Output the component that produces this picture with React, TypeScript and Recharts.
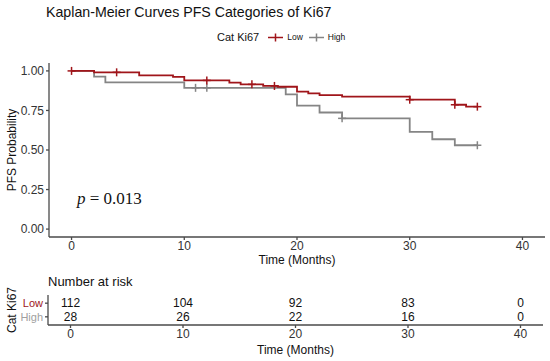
import React from "react";
import {
  ComposedChart,
  ScatterChart,
  Line,
  Scatter,
  XAxis,
  YAxis,
} from "recharts";

// Kaplan-Meier step points (time in months, survival prob, censored flag)
const lowTime = [0, 2, 4, 6, 9, 10, 12, 14, 15, 16, 17, 18, 18.3, 20, 21, 22, 24, 30, 34, 35, 36];
const lowSurv = [1.0, 0.991, 0.991, 0.972, 0.962, 0.94, 0.94, 0.926, 0.915, 0.915, 0.905, 0.905, 0.9, 0.869, 0.858, 0.847, 0.837, 0.818, 0.786, 0.774, 0.774];
const lowCens = [1, 0, 1, 0, 0, 0, 1, 0, 0, 1, 0, 1, 0, 0, 0, 0, 0, 1, 1, 0, 1];

const highTime = [0, 2, 3, 10, 11, 12, 19, 20, 22, 24, 30, 32, 34, 36];
const highSurv = [1.0, 0.964, 0.928, 0.893, 0.893, 0.893, 0.852, 0.78, 0.737, 0.7, 0.615, 0.568, 0.53, 0.53];
const highCens = [0, 0, 0, 0, 1, 1, 0, 0, 0, 1, 0, 0, 0, 1];

// number at risk table
const riskTimes = [0, 10, 20, 30, 40];
const riskLow = [112, 104, 92, 83, 0];
const riskHigh = [28, 26, 22, 16, 0];
const xTicks = [0, 10, 20, 30, 40];
const yTicks = [0, 0.25, 0.5, 0.75, 1];

const RED = "#a0151a";
const GREY = "#858585";
const AXIS = "#4a4a4a";
const FONT = "'Liberation Sans', Arial, sans-serif";

const lowData = lowTime.map((t, i) => ({ t, s: lowSurv[i], c: lowCens[i] }));
const highData = highTime.map((t, i) => ({ t, s: highSurv[i], c: highCens[i] }));
const riskData = [
  ...riskTimes.map((t, i) => ({ t, row: 2, n: riskLow[i] })),
  ...riskTimes.map((t, i) => ({ t, row: 1, n: riskHigh[i] })),
];

const censorDot = (color: string) => (props: any) => {
  const { cx, cy, payload, index } = props;
  if (!payload.c) return <g key={`d${index}`} />;
  return (
    <g key={`d${index}`} stroke={color} strokeWidth={1.5}>
      <line x1={cx - 4} x2={cx + 4} y1={cy} y2={cy} />
      <line x1={cx} x2={cx} y1={cy - 4} y2={cy + 4} />
    </g>
  );
};

const RiskLabel = (props: any) => {
  const { cx, cy, payload } = props;
  return (
    <text x={cx} y={cy} textAnchor="middle" dominantBaseline="central" fontSize={12} fill="#111" fontFamily={FONT}>
      {payload.n}
    </text>
  );
};

const RowTick = (props: any) => {
  const { x, y, payload } = props;
  const isLow = payload.value === 2;
  return (
    <text x={x} y={y} textAnchor="end" dominantBaseline="central" fontSize={11} fill={isLow ? RED : "#a0a0a0"} fontFamily={FONT}>
      {isLow ? "Low" : "High"}
    </text>
  );
};

const Swatch = ({ color }: { color: string }) => (
  <svg width={15} height={9} style={{ display: "block" }}>
    <line x1={0} x2={15} y1={4.5} y2={4.5} stroke={color} strokeWidth={1.5} />
    <line x1={7.5} x2={7.5} y1={0.5} y2={8.5} stroke={color} strokeWidth={1.5} />
  </svg>
);

const tickStyle = { fontSize: 12, fill: "#333", fontFamily: FONT };

export default function App() {
  return (
    <div style={{ position: "absolute", left: 0, top: 0, width: 550, height: 361, background: "#fff", fontFamily: FONT }}>
      <div style={{ position: "absolute", left: 46, top: 4, fontSize: 14.2, color: "#111", whiteSpace: "nowrap" }}>
        Kaplan-Meier Curves PFS Categories of Ki67
      </div>
      <div style={{ position: "absolute", left: 217, top: 31, display: "flex", alignItems: "center", whiteSpace: "nowrap", color: "#111" }}>
        <span style={{ fontSize: 11, marginRight: 9 }}>Cat Ki67</span>
        <Swatch color={RED} />
        <span style={{ fontSize: 8.5, marginLeft: 4, marginRight: 6 }}>Low</span>
        <Swatch color={GREY} />
        <span style={{ fontSize: 8.5, marginLeft: 4 }}>High</span>
      </div>

      <div style={{ position: "absolute", left: 0, top: 0 }}>
        <ComposedChart width={550} height={267} margin={{ top: 63, right: 5, bottom: 0, left: 0 }}>
          <XAxis
            type="number"
            dataKey="t"
            domain={[-2, 42]}
            ticks={xTicks}
            interval={0}
            allowDataOverflow
            height={30}
            tickSize={3}
            tickMargin={1}
            stroke={AXIS}
            strokeWidth={1.3}
            tick={tickStyle}
            label={{ value: "Time (Months)", position: "insideBottom", offset: 3, style: { fontSize: 12, fill: "#111", fontFamily: FONT } }}
          />
          <YAxis
            type="number"
            domain={[-0.05, 1.05]}
            ticks={yTicks}
            interval={0}
            allowDataOverflow
            width={49}
            tickSize={3}
            tickMargin={2}
            stroke={AXIS}
            strokeWidth={1.3}
            tick={tickStyle}
            tickFormatter={(v: number) => v.toFixed(2)}
            label={{ value: "PFS Probability", angle: -90, position: "insideLeft", offset: 12, style: { fontSize: 12, fill: "#111", fontFamily: FONT, textAnchor: "middle" } }}
          />
          <Line
            data={highData}
            dataKey="s"
            type="stepAfter"
            stroke={GREY}
            strokeWidth={1.8}
            dot={censorDot(GREY)}
            activeDot={false}
            isAnimationActive={false}
          />
          <Line
            data={lowData}
            dataKey="s"
            type="stepAfter"
            stroke={RED}
            strokeWidth={1.8}
            dot={censorDot(RED)}
            activeDot={false}
            isAnimationActive={false}
          />
        </ComposedChart>
      </div>

      <div style={{ position: "absolute", left: 77, top: 189, fontFamily: "'Liberation Serif', 'Times New Roman', serif", fontSize: 17, color: "#111", whiteSpace: "nowrap" }}>
        <i>p</i> = 0.013
      </div>

      <div style={{ position: "absolute", left: 48, top: 274, fontSize: 13, color: "#111", whiteSpace: "nowrap" }}>
        Number at risk
      </div>

      <div style={{ position: "absolute", left: 0, top: 265 }}>
        <ScatterChart width={550} height={96} margin={{ top: 30, right: 7, bottom: 0, left: 0 }}>
          <XAxis
            type="number"
            dataKey="t"
            domain={[-2, 42]}
            ticks={xTicks}
            interval={0}
            allowDataOverflow
            height={36}
            tickSize={3}
            tickMargin={1}
            stroke={AXIS}
            strokeWidth={1.3}
            tick={tickStyle}
            label={{ value: "Time (Months)", position: "insideBottom", offset: 7, style: { fontSize: 12, fill: "#111", fontFamily: FONT } }}
          />
          <YAxis
            type="number"
            dataKey="row"
            domain={[0.4, 2.6]}
            ticks={[1, 2]}
            interval={0}
            width={48}
            tickSize={3}
            tickMargin={2}
            stroke={AXIS}
            strokeWidth={1.3}
            tick={<RowTick />}
            label={{ value: "Cat Ki67", angle: -90, position: "insideLeft", offset: 12, style: { fontSize: 12, fill: "#111", fontFamily: FONT, textAnchor: "middle" } }}
          />
          <Scatter data={riskData} shape={<RiskLabel />} isAnimationActive={false} />
        </ScatterChart>
      </div>
    </div>
  );
}
